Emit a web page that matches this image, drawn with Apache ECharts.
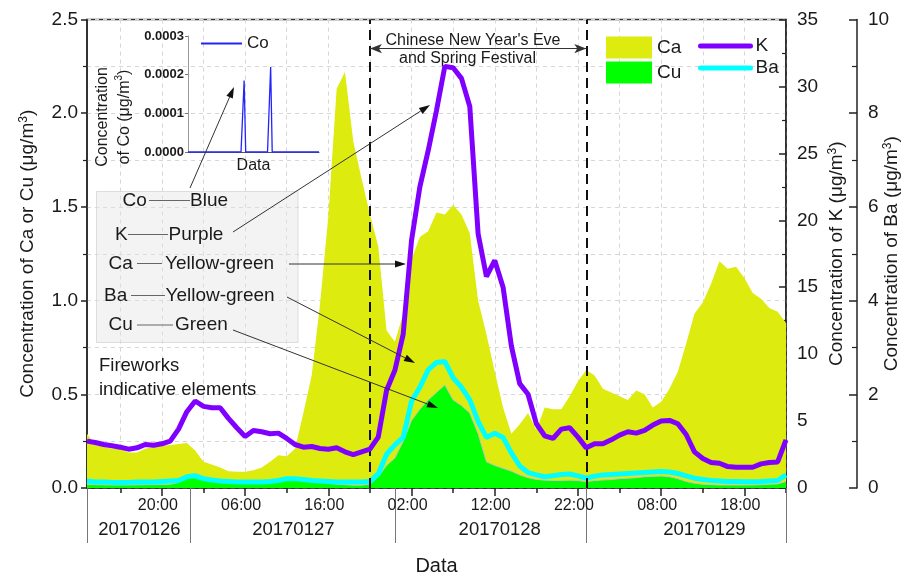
<!DOCTYPE html>
<html>
<head>
<meta charset="utf-8">
<script src="https://cdn.jsdelivr.net/npm/echarts@6/dist/echarts.min.js"></script>
<style>
  html, body { margin: 0; padding: 0; background: #fff; }
  #chart { width: 905px; height: 577px; }
</style>
</head>
<body>
<div id="chart"></div>
<script>
// Hourly samples, first one at 11:00 on 2017-01-26 (hour 11 counted from 2017-01-26 00:00)
const startHour = 11;

// Ca (μg/m3), left axis
const caValues = [
  0.29, 0.23, 0.22, 0.21, 0.21, 0.19, 0.19, 0.21, 0.22, 0.225,
  0.23, 0.235, 0.24, 0.20, 0.14, 0.125, 0.11, 0.09, 0.087, 0.087,
  0.095, 0.11, 0.14, 0.175, 0.17, 0.21, 0.40, 0.60, 0.98, 1.45,
  2.13, 2.22, 1.85, 1.65, 1.46, 1.29, 0.84, 0.78, 0.93, 1.22,
  1.34, 1.37, 1.47, 1.46, 1.51, 1.46, 1.36, 1.00, 0.82, 0.62,
  0.43, 0.29, 0.34, 0.40, 0.31, 0.43, 0.42, 0.42, 0.49, 0.57,
  0.63, 0.60, 0.53, 0.51, 0.49, 0.47, 0.52, 0.50, 0.43, 0.46,
  0.53, 0.62, 0.77, 0.93, 0.99, 1.09, 1.21, 1.17, 1.18, 1.12,
  1.04, 1.01, 0.96, 0.94, 0.88
];

// Cu (μg/m3), left axis
const cuValues = [
  0.020, 0.018, 0.017, 0.016, 0.016, 0.016, 0.017, 0.018, 0.018, 0.019,
  0.020, 0.030, 0.070, 0.078, 0.060, 0.045, 0.035, 0.030, 0.025, 0.025,
  0.025, 0.025, 0.030, 0.040, 0.050, 0.045, 0.040, 0.035, 0.030, 0.025,
  0.020, 0.018, 0.015, 0.015, 0.020, 0.060, 0.120, 0.160, 0.250, 0.360,
  0.420, 0.470, 0.510, 0.550, 0.470, 0.440, 0.400, 0.290, 0.140, 0.120,
  0.105, 0.090, 0.070, 0.055, 0.046, 0.042, 0.040, 0.040, 0.042, 0.040,
  0.034, 0.040, 0.043, 0.045, 0.050, 0.052, 0.055, 0.060, 0.062, 0.064,
  0.060, 0.050, 0.035, 0.025, 0.020, 0.018, 0.016, 0.016, 0.016, 0.016,
  0.016, 0.018, 0.020, 0.022, 0.035
];

// K (μg/m3), first right axis
const kValues = [
  3.5, 3.4, 3.25, 3.15, 3.05, 2.9, 3.0, 3.25, 3.2, 3.3,
  3.5, 4.4, 5.7, 6.5, 6.1, 6.0, 6.0, 5.2, 4.5, 3.85,
  4.3, 4.2, 4.05, 4.1, 3.7, 3.25, 3.05, 3.1, 2.95, 2.9,
  3.0, 2.7, 2.5, 2.7, 2.9, 3.8, 7.3, 8.8, 11.5, 18.5,
  22.5, 25.2, 28.2, 31.5, 31.4, 30.6, 28.5, 19.0, 15.8, 17.0,
  15.0, 10.6, 7.8, 7.0, 4.8, 3.9, 3.7, 4.4, 4.5, 3.8,
  3.0, 3.3, 3.3, 3.6, 3.95, 4.2, 4.1, 4.3, 4.7, 5.0,
  5.05, 4.8, 4.0, 2.7, 2.2, 1.9, 1.85, 1.6, 1.55, 1.55,
  1.55, 1.8, 1.9, 1.95, 3.6
];

// Ba (μg/m3), second right axis
const baValues = [
  0.15, 0.13, 0.13, 0.12, 0.12, 0.12, 0.13, 0.13, 0.13, 0.14,
  0.15, 0.16, 0.24, 0.26, 0.20, 0.17, 0.15, 0.14, 0.13, 0.13,
  0.13, 0.13, 0.14, 0.16, 0.20, 0.20, 0.18, 0.16, 0.15, 0.14,
  0.13, 0.13, 0.13, 0.13, 0.14, 0.30, 0.72, 0.92, 1.08, 1.85,
  2.15, 2.52, 2.68, 2.70, 2.35, 2.15, 1.88, 1.42, 1.08, 1.17,
  1.08, 0.75, 0.47, 0.33, 0.28, 0.24, 0.26, 0.29, 0.30, 0.26,
  0.21, 0.25, 0.28, 0.29, 0.30, 0.31, 0.32, 0.33, 0.34, 0.35,
  0.34, 0.31, 0.26, 0.21, 0.18, 0.16, 0.15, 0.14, 0.14, 0.135,
  0.135, 0.14, 0.15, 0.16, 0.28
];

// Co (μg/m3), inset chart
const coValues = [
  0, 0, 0, 0, 0, 0, 0, 0, 0, 0,
  0, 0, 0, 0, 0, 0, 0, 0, 0, 0,
  0, 0, 0, 0, 0, 0, 0, 0, 0, 0,
  0, 0, 0, 0, 0, 0, 0.000185, 0, 0, 0,
  0, 0, 0, 0, 0, 0, 0, 0, 0, 0,
  0, 0, 0, 0.00022, 0, 0, 0, 0, 0, 0,
  0, 0, 0, 0, 0, 0, 0, 0, 0, 0,
  0, 0, 0, 0, 0, 0, 0, 0, 0, 0,
  0, 0, 0, 0, 0
];

// Time axis ticks / labels (hours from 2017-01-26 00:00)
const hourTicks = [15, 20, 25, 30, 35, 40, 45, 50, 55, 60, 65, 70, 75, 80, 85, 90, 95];
const hourLabels = [20, 30, 40, 50, 60, 70, 80, 90];
const dayNames = ['20170126', '20170127', '20170128', '20170129'];
const dayBounds = [11, 23.4, 48, 71, 95];
const dayLabelHours = [17.3, 35.8, 60.6, 85.2];
// Chinese New Year's Eve and Spring Festival window
const festivalHours = [45, 71];

const FONT = '"Liberation Sans", Arial, Helvetica, sans-serif';
const INK = '#1a1a1a';
const GRID_LINE = { type: [4, 4], color: '#d6d6d6', width: 1 };
const SUP = { sup: { fontSize: 12, fontFamily: FONT, color: INK, verticalAlign: 'top', lineHeight: 12 } };

const pairs = (vals) => vals.map((v, i) => [startHour + i, v]);
const fmtHour = (v) => String(v % 24).padStart(2, '0') + ':00';
const nearestDay = (v) => {
  let best = 0;
  dayLabelHours.forEach((h, i) => { if (Math.abs(h - v) < Math.abs(dayLabelHours[best] - v)) best = i; });
  return dayNames[best];
};

// Annotation arrow: straight line ending in a filled head
function arrow(x1, y1, x2, y2) {
  const a = Math.atan2(y2 - y1, x2 - x1), L = 11, W = 3.5;
  const bx = x2 - L * Math.cos(a), by = y2 - L * Math.sin(a);
  return [
    { type: 'line', z: 100, silent: true, shape: { x1, y1, x2: bx, y2: by }, style: { stroke: '#333', lineWidth: 1 } },
    { type: 'polygon', z: 100, silent: true,
      shape: { points: [[x2, y2], [bx + W * Math.sin(a), by - W * Math.cos(a)], [bx - W * Math.sin(a), by + W * Math.cos(a)]] },
      style: { fill: '#111' } }
  ];
}
function label(text, x, y, size, align) {
  return { type: 'text', z: 100, silent: true, x, y,
    style: { text, fontSize: size, fontFamily: FONT, fill: INK, align: align || 'left', verticalAlign: 'middle',
             textAlign: align || 'left', textVerticalAlign: 'middle' } };
}
function link(x1, x2, y) {
  return { type: 'line', z: 100, silent: true, shape: { x1, y1: y, x2, y2: y }, style: { stroke: '#666', lineWidth: 1 } };
}

const graphics = [
  { type: 'rect', z: 90, silent: true, shape: { x: 96.5, y: 191.5, width: 201.5, height: 151 },
    style: { fill: 'rgba(228,228,228,0.45)', stroke: 'rgba(210,210,210,0.7)', lineWidth: 1 } },
  label('Co', 122.5, 200.5, 19), link(149, 190, 200.5), label('Blue', 190, 200.5, 19),
  label('K', 115, 234.5, 19), link(128, 168, 234.5), label('Purple', 168.5, 234.5, 19),
  label('Ca', 108.5, 263.5, 19), link(137, 162, 263.5), label('Yellow-green', 165, 263.5, 19),
  label('Ba', 104, 295.5, 19), link(131, 165, 295.5), label('Yellow-green', 165.5, 295.5, 19),
  label('Cu', 108.5, 325, 19), link(137, 173, 325), label('Green', 175, 325, 19),
  label('Fireworks', 99, 366, 18.5),
  label('indicative elements', 99, 389.5, 18.5),
  label("Chinese New Year's Eve", 473, 40.5, 16, 'center'),
  label('and Spring Festival', 467.5, 58.5, 16, 'center'),
  { type: 'text', z: 100, silent: true, x: 114, y: 117, rotation: Math.PI / 2,
    style: { text: 'Concentration\nof Co (μg/m{sup|3})', fontSize: 16, fontFamily: FONT, fill: INK, lineHeight: 22,
             align: 'center', verticalAlign: 'middle', textAlign: 'center', textVerticalAlign: 'middle',
             rich: { sup: { fontSize: 10, fontFamily: FONT, fill: INK, color: INK, verticalAlign: 'top', lineHeight: 10 } } } }
].concat(
  arrow(190, 188, 234, 87),
  arrow(233, 232, 430, 105),
  arrow(289, 264, 406, 264),
  arrow(287, 297, 415, 363),
  arrow(233, 330, 438, 408)
);

const chart = echarts.init(document.getElementById('chart'), null, { renderer: 'canvas' });

const hiddenAxisBits = { axisLine: { show: false }, axisLabel: { show: false }, splitLine: { show: false } };

chart.setOption({
  animation: false,
  backgroundColor: '#fff',
  textStyle: { fontFamily: FONT, color: INK },
  grid: [
    { left: 87, top: 19.5, right: 119, bottom: 89, show: true, borderColor: '#333', borderWidth: 1.5,
      outerBoundsMode: 'none', containLabel: false },
    { left: 188, top: 36, width: 131, height: 116, outerBoundsMode: 'none', containLabel: false }
  ],
  legend: [
    { data: [{ name: 'Ca', icon: 'rect' }, { name: 'Cu', icon: 'rect' }], orient: 'vertical', left: 601, top: 31.5,
      itemWidth: 46, itemHeight: 22, itemGap: 3, textStyle: { fontSize: 19, fontFamily: FONT, color: INK } },
    { data: ['K', 'Ba'], orient: 'vertical', left: 693, top: 31.5,
      itemWidth: 50, itemHeight: 22, itemGap: 3, itemStyle: { opacity: 0 },
      lineStyle: { width: 5, cap: 'round' },
      textStyle: { fontSize: 19, fontFamily: FONT, color: INK } },
    { data: ['Co'], orient: 'vertical', left: 195, top: 30,
      itemWidth: 41, itemHeight: 14, itemStyle: { opacity: 0 }, lineStyle: { width: 2 },
      textStyle: { fontSize: 17, fontFamily: FONT, color: INK } }
  ],
  xAxis: [
    { type: 'value', gridIndex: 0, position: 'bottom', min: 11, max: 95,
      axisLine: { show: true, lineStyle: { color: '#222', width: 1.5 } },
      axisTick: { show: true, customValues: hourTicks, length: 5, lineStyle: { color: '#222', width: 1.5 } },
      axisLabel: { customValues: hourLabels, formatter: fmtHour, fontSize: 16, margin: 10, padding: [0, 8, 0, 0],
                   color: INK, fontFamily: FONT },
      splitLine: { show: true, lineStyle: GRID_LINE },
      name: 'Data', nameLocation: 'middle', nameGap: 68, nameMoveOverlap: false,
      nameTextStyle: { fontSize: 20, fontFamily: FONT, color: INK } },
    Object.assign({ type: 'value', gridIndex: 0, position: 'bottom', offset: 0, min: 11, max: 95,
      axisTick: { show: true, customValues: hourLabels, length: 8, lineStyle: { color: '#222', width: 1.5 } } }, hiddenAxisBits),
    { type: 'value', gridIndex: 0, position: 'bottom', offset: 0, min: 11, max: 95,
      axisLine: { show: false },
      axisTick: { show: true, customValues: dayBounds, length: 55, lineStyle: { color: '#777', width: 1 } },
      axisLabel: { customValues: dayLabelHours, formatter: nearestDay, fontSize: 18.5, margin: 32, color: INK, fontFamily: FONT },
      splitLine: { show: false } },
    { type: 'value', gridIndex: 1, min: 11, max: 95,
      axisLine: { show: true, lineStyle: { color: '#555', width: 1.2 } },
      axisTick: { show: false }, axisLabel: { show: false }, splitLine: { show: false },
      name: 'Data', nameLocation: 'middle', nameGap: 6, nameMoveOverlap: false,
      nameTextStyle: { fontSize: 16, fontFamily: FONT, color: INK } }
  ],
  yAxis: [
    { type: 'value', gridIndex: 0, position: 'left', min: 0, max: 2.5, interval: 0.5,
      axisLine: { show: true, lineStyle: { color: '#222', width: 1.5 } },
      axisTick: { show: true, length: 6, lineStyle: { color: '#222', width: 1.5 } },
      minorTick: { show: true, splitNumber: 2, length: 4, lineStyle: { color: '#222', width: 1.2 } },
      axisLabel: { formatter: (v) => v.toFixed(1), fontSize: 19, margin: 9, color: INK, fontFamily: FONT },
      splitLine: { show: true, lineStyle: GRID_LINE },
      minorSplitLine: { show: true, lineStyle: GRID_LINE },
      name: 'Concentration of Ca or Cu (μg/m{sup|3})', nameLocation: 'middle', nameGap: 50, nameRotate: 90,
      nameMoveOverlap: false,
      nameTextStyle: { fontSize: 19, fontFamily: FONT, color: INK, rich: SUP } },
    { type: 'value', gridIndex: 0, position: 'right', min: 0, max: 35, interval: 5,
      axisLine: { show: true, lineStyle: { color: '#222', width: 1.5 } },
      axisTick: { show: true, inside: true, length: 7, lineStyle: { color: '#222', width: 1.5 } },
      minorTick: { show: true, splitNumber: 2, length: 4, lineStyle: { color: '#222', width: 1.2 } },
      axisLabel: { fontSize: 19, margin: 11, color: INK, fontFamily: FONT },
      splitLine: { show: false },
      name: 'Concentration of K (μg/m{sup|3})', nameLocation: 'middle', nameGap: 41, nameRotate: 90,
      nameMoveOverlap: false,
      nameTextStyle: { fontSize: 19, fontFamily: FONT, color: INK, rich: SUP } },
    { type: 'value', gridIndex: 0, position: 'right', offset: 71, min: 0, max: 10, interval: 2,
      axisLine: { show: true, lineStyle: { color: '#222', width: 1.5 } },
      axisTick: { show: true, inside: true, length: 8, lineStyle: { color: '#222', width: 1.5 } },
      minorTick: { show: true, splitNumber: 2, length: 5, lineStyle: { color: '#222', width: 1.2 } },
      axisLabel: { fontSize: 19, margin: 11, color: INK, fontFamily: FONT },
      splitLine: { show: false },
      name: 'Concentration of Ba (μg/m{sup|3})', nameLocation: 'middle', nameGap: 25, nameRotate: 90,
      nameMoveOverlap: false,
      nameTextStyle: { fontSize: 19, fontFamily: FONT, color: INK, rich: SUP } },
    { type: 'value', gridIndex: 1, min: 0, max: 0.0003, interval: 0.0001,
      axisLine: { show: true, lineStyle: { color: '#999', width: 1 } },
      axisTick: { show: true, length: 3, lineStyle: { color: '#777' } },
      axisLabel: { formatter: (v) => v.toFixed(4), fontSize: 13, fontWeight: 'bold', margin: 4, color: INK, fontFamily: FONT },
      splitLine: { show: false } }
  ],
  series: [
    { name: 'Ca', type: 'line', xAxisIndex: 0, yAxisIndex: 0, data: pairs(caValues), z: 2,
      symbol: 'none', showSymbol: false, color: '#DDEB0F',
      lineStyle: { width: 0 }, areaStyle: { color: '#DDEB0F', opacity: 1 },
      markLine: {
        silent: true, symbol: ['none', 'none'], label: { show: false }, z: 5,
        lineStyle: { color: '#111', width: 2, type: [10, 6] },
        data: [
          { xAxis: festivalHours[0] },
          { xAxis: festivalHours[1] },
          [
            { coord: [festivalHours[0], 2.345], symbol: 'arrow', symbolSize: [7, 12], lineStyle: { type: 'solid', width: 1, color: '#333' } },
            { coord: [festivalHours[1], 2.345], symbol: 'arrow', symbolSize: [7, 12] }
          ]
        ]
      } },
    { name: 'Cu', type: 'line', xAxisIndex: 0, yAxisIndex: 0, data: pairs(cuValues), z: 3,
      symbol: 'none', showSymbol: false, color: '#00FF00',
      lineStyle: { width: 1, color: '#c4c4c4' }, areaStyle: { color: '#00FF00', opacity: 1 } },
    { name: 'Ba', type: 'line', xAxisIndex: 0, yAxisIndex: 2, data: pairs(baValues), z: 4,
      symbol: 'none', showSymbol: false, color: '#00FFFF', lineStyle: { width: 5, color: '#00FFFF' } },
    { name: 'K', type: 'line', xAxisIndex: 0, yAxisIndex: 1, data: pairs(kValues), z: 6,
      symbol: 'none', showSymbol: false, color: '#8000FF', lineStyle: { width: 5, color: '#8000FF' } },
    { name: 'Co', type: 'line', xAxisIndex: 3, yAxisIndex: 3, data: pairs(coValues), z: 6,
      symbol: 'none', showSymbol: false, color: '#2323FF', lineStyle: { width: 1.3, color: '#2323FF' } }
  ],
  graphic: { elements: graphics }
});
</script>
</body>
</html>
